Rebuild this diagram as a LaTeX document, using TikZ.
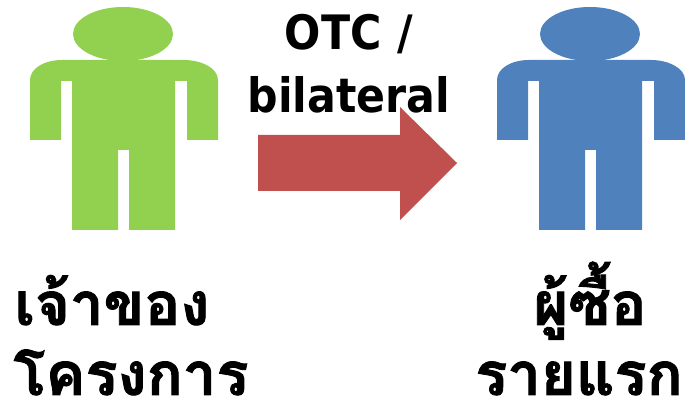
\documentclass[tikz,border=0pt]{standalone}
\usepackage{fontspec}
\setmainfont[FakeStretch=0.9]{DejaVu Sans}
\newfontfamily\thaifont[Script=Thai,BoldFeatures={FakeBold=1.5}]{Loma}
\definecolor{personGreen}{RGB}{146,208,80}
\definecolor{personBlue}{RGB}{79,129,189}
\definecolor{arrowRed}{RGB}{192,80,77}
\tikzset{
    person/.pic={
        \fill (123,367) ellipse (50 and 27);
        \fill (30,321) .. controls (30,333) and (45,341) .. (62,341) -- (184,341)
            .. controls (201,341) and (218,333) .. (218,321) -- (218,261) -- (187,261)
            -- (187,320) -- (175,320) -- (175,171) -- (129,171) -- (129,251) -- (118,251)
            -- (118,171) -- (72,171) -- (72,320) -- (61,320) -- (61,261) -- (30,261) -- cycle;
    },
    enLabel/.style={font=\bfseries\fontsize{27}{27}\selectfont,anchor=base,inner sep=0pt},
    thLabel/.style={font=\thaifont\bfseries\fontsize{34}{34}\selectfont,anchor=base,inner sep=0pt}
}
\begin{document}
\begin{tikzpicture}[x=0.02cm,y=0.02cm]
    \useasboundingbox (0,0) rectangle (685,401);
    \pic[personGreen] at (0,0) {person};
    \pic[personBlue] at (467,0) {person};
    \node[enLabel] (otc) at (349,351) {OTC\,\,/};
    \node[enLabel] (bilateral) at (349,288) {bilateral};
    \fill[arrowRed] (258,266) -- (400,266) -- (400,294) -- (457,238) -- (400,181) -- (400,210) -- (258,210) -- cycle;
    \node[thLabel] (owner) at (112,76) {เจ้าของ};
    \node[thLabel] (project) at (131,6) {โครงการ};
    \node[thLabel] (buyer) at (590,76) {ผู้ซื้อ};
    \node[thLabel] (first) at (579,6) {รายแรก};
\end{tikzpicture}
\end{document}
